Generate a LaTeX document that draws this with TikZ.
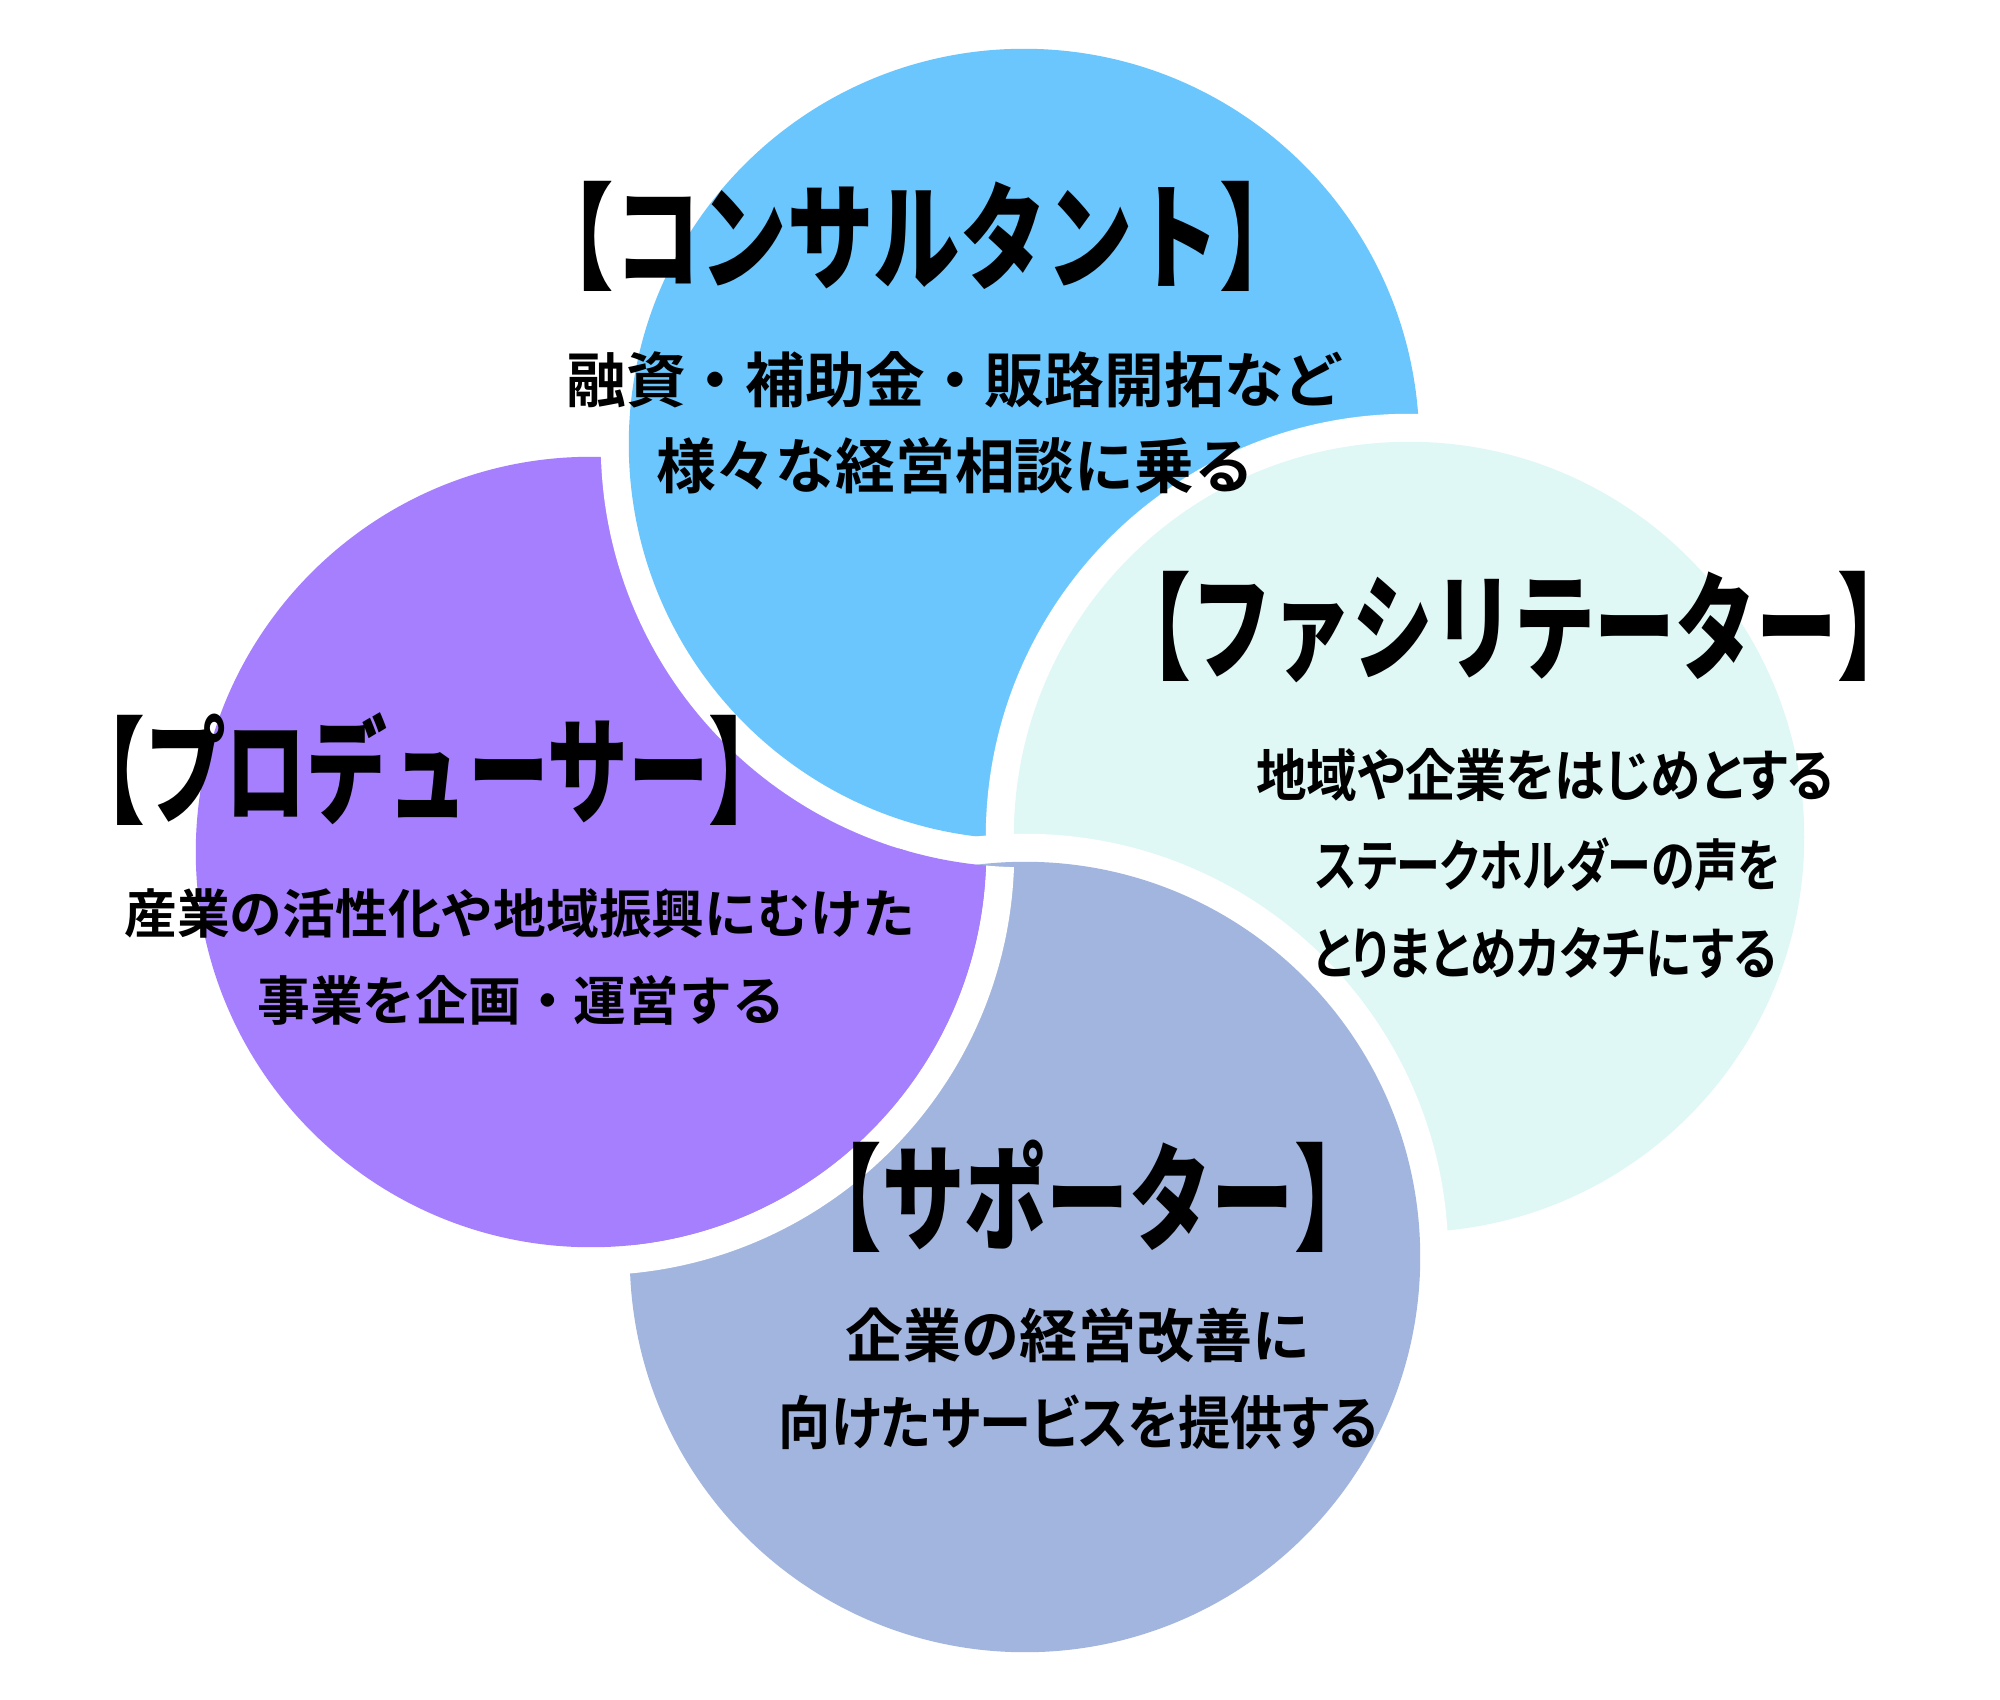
\documentclass[tikz,border=0pt]{standalone}
\usepackage{fontspec}
\usepackage{graphicx}
\usepackage{tikz}
\IfFontExistsTF{Noto Sans CJK JP Black}
  {\newfontfamily\titlefont{Noto Sans CJK JP Black}[FakeStretch=0.71]}
  {\newfontfamily\titlefont{Noto Sans CJK JP}[FakeStretch=0.71,FakeBold=3]}
\IfFontExistsTF{Noto Sans CJK JP Bold}
  {\newfontfamily\bodyfont{Noto Sans CJK JP Bold}
   \newfontfamily\bodypfont{Noto Sans CJK JP Bold}[RawFeature=+palt]}
  {\newfontfamily\bodyfont{Noto Sans CJK JP}[FakeBold=1.5]
   \newfontfamily\bodypfont{Noto Sans CJK JP}[FakeBold=1.5,RawFeature=+palt]}
\definecolor{producer}{RGB}{166,127,254}
\definecolor{consultant}{RGB}{107,198,253}
\definecolor{facilitator}{RGB}{223,248,246}
\definecolor{supporter}{RGB}{161,181,222}

\begin{document}
\begin{tikzpicture}[x=0.01cm,y=-0.01cm,
    title/.style={font=\titlefont\fontsize{33}{33}\selectfont,inner sep=0pt},
    body/.style={font=\bodyfont\fontsize{17}{17}\selectfont,inner sep=0pt},
    bodyp/.style={font=\bodypfont\fontsize{16.5}{16.5}\selectfont,inner sep=0pt}]
    \fill[white] (0,0) rectangle (2000,1700);
    \coordinate (P) at (591,852);
    \coordinate (C) at (1024,444);
    \coordinate (F) at (1409,837);
    \coordinate (S) at (1025,1257);
    % white gap first, then the disc
    \foreach \c/\col in {P/producer,C/consultant,F/facilitator,S/supporter}{
        \fill[white] (\c) circle (4.23cm);
        \fill[\col] (\c) circle (3.95cm);
    }
    % producer lies over supporter
    \begin{scope}[even odd rule]
        \clip (S) circle (4.27cm);
        \clip (C) circle (4.23cm) (2000,0) rectangle (0,1700);
        \fill[white] (P) circle (4.23cm) circle (3.95cm);
        \fill[producer] (P) circle (3.95cm);
    \end{scope}

    \node[title] (con-title) at (917,236) {\scalebox{1.05}[1]{【コンサルタント】}};
    \node[body] (con-l1) at (955,380) {融資・補助金・販路開拓など};
    \node[body] (con-l2) at (955,466) {様々な経営相談に乗る};

    \node[title] (fac-title) at (1514,627) {\scalebox{0.98}[1]{【ファシリテーター】}};
    \node[bodyp,font=\bodypfont\fontsize{16}{16}\selectfont] (fac-l1) at (1545,775) {\scalebox{0.9}[1]{地域や企業をはじめとする}};
    \node[bodyp,font=\bodypfont\fontsize{16}{16}\selectfont] (fac-l2) at (1548,865) {\scalebox{0.78}[1]{ステークホルダーの声を}};
    \node[bodyp,font=\bodypfont\fontsize{16}{16}\selectfont] (fac-l3) at (1545,953) {\scalebox{0.83}[1]{とりまとめカタチにする}};

    \node[title] (pro-title) at (427,769) {\scalebox{0.98}[1]{【プロデューサー】}};
    \node[body,font=\bodyfont\fontsize{15}{15}\selectfont] (pro-l1) at (520,913) {産業の活性化や地域振興にむけた};
    \node[body,font=\bodyfont\fontsize{15}{15}\selectfont] (pro-l2) at (521,1000) {事業を企画・運営する};

    \node[title] (sup-title) at (1088,1196) {【サポーター】};
    \node[body,font=\bodyfont\fontsize{16.5}{16.5}\selectfont] (sup-l1) at (1078,1335) {企業の経営改善に};
    \node[bodyp] (sup-l2) at (1078,1422) {\scalebox{0.9}[1]{向けたサービスを提供する}};
\end{tikzpicture}
\end{document}
